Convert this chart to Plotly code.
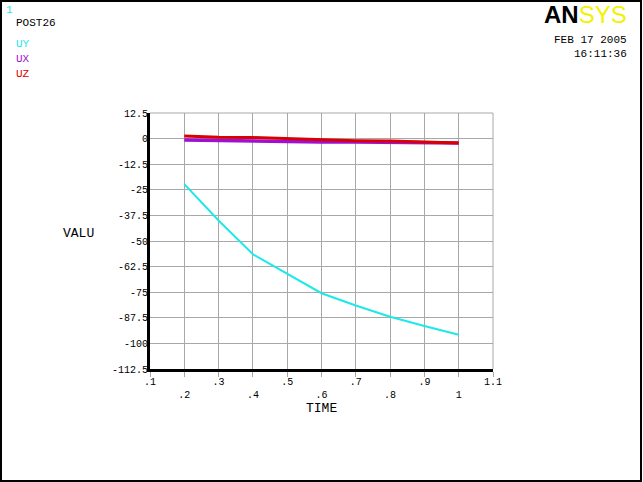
import plotly.graph_objects as go

time = [0.2, 0.3, 0.4, 0.5, 0.6, 0.7, 0.8, 0.9, 1.0]
uy = [-22.2, -40.0, -56.5, -66.0, -75.5, -81.5, -87.0, -91.5, -95.8]
ux = [-0.7, -1.0, -1.4, -1.5, -1.6, -1.7, -1.8, -1.9, -2.1]
uz = [1.3, 0.7, 0.5, 0.0, -0.6, -1.0, -1.2, -1.6, -2.1]

x_ticks = [0.1, 0.2, 0.3, 0.4, 0.5, 0.6, 0.7, 0.8, 0.9, 1.0, 1.1]
x_labels = [".1", ".2", ".3", ".4", ".5", ".6", ".7", ".8", ".9", "1", "1.1"]
y_ticks = [12.5, 0, -12.5, -25, -37.5, -50, -62.5, -75, -87.5, -100, -112.5]
y_labels = ["12.5", "0", "-12.5", "-25", "-37.5", "-50", "-62.5", "-75", "-87.5", "-100", "-112.5"]

series = [("UY", uy, "#1EE8E8"), ("UX", ux, "#A010D0"), ("UZ", uz, "#D80000")]

FONT = "Liberation Mono"

fig = go.Figure()
widths = {"UY": 2, "UX": 3.5, "UZ": 3}
for name, vals, col in [series[1], series[2], series[0]]:
    fig.add_trace(go.Scatter(x=time, y=vals, mode="lines", name=name,
                             line=dict(color=col, width=widths[name]), showlegend=False))

# staggered x tick labels
x_text = [lab if i % 2 == 0 else "<br>" + lab for i, lab in enumerate(x_labels)]

fig.update_layout(
    width=643, height=482,
    margin=dict(l=150, r=150, t=113, b=113),
    paper_bgcolor="white", plot_bgcolor="white",
    font=dict(family=FONT, color="black", size=10),
    xaxis=dict(range=[0.1, 1.1], tickvals=x_ticks, ticktext=x_text,
               showgrid=True, gridcolor="#A8A8A8", gridwidth=1,
               showline=True, linecolor="black", linewidth=3,
               ticks="outside", ticklen=5, tickcolor="#A8A8A8", tickwidth=1,
               ticklabelstandoff=-4,
               zeroline=False, tickfont=dict(family=FONT, size=10)),
    yaxis=dict(range=[-112.5, 12.5], tickvals=y_ticks, ticktext=y_labels,
               showgrid=True, gridcolor="#A8A8A8", gridwidth=1,
               showline=True, linecolor="black", linewidth=3,
               ticks="", ticklabelstandoff=-3,
               zeroline=False, tickfont=dict(family=FONT, size=10)),
)

# grid edges at top and right
fig.add_shape(type="line", xref="x domain", yref="y domain", x0=0, x1=1, y0=1, y1=1,
              line=dict(color="#A8A8A8", width=1))
fig.add_shape(type="line", xref="x domain", yref="y domain", x0=1, x1=1, y0=0, y1=1,
              line=dict(color="#A8A8A8", width=1))
# frame around the whole picture
fig.add_shape(type="rect", xref="paper", yref="paper", x0=-149/343, x1=1+148/343,
              y0=-112/256, y1=1+112/256, line=dict(color="black", width=2))

ann = []
def px(x):
    return (x - 150) / 343
def py(y):
    return (369 - y) / 256

ann.append(dict(text="1", x=px(4), y=py(10), font=dict(color="#1EE8E8", size=11, family=FONT)))
ann.append(dict(text="POST26", x=px(14), y=py(23), font=dict(color="black", size=11, family=FONT)))
for i, (name, vals, col) in enumerate(series):
    ann.append(dict(text=name, x=px(14), y=py(44 + 15 * i), font=dict(color=col, size=11, family=FONT)))
ann.append(dict(text="FEB 17 2005", x=px(629), y=py(40), xanchor="right",
                font=dict(color="black", size=11, family=FONT)))
ann.append(dict(text="16:11:36", x=px(629), y=py(54), xanchor="right",
                font=dict(color="black", size=11, family=FONT)))
ann.append(dict(text="<b>AN</b><span style='color:#F2F200'>SYS</span>", x=px(629), y=py(14),
                xanchor="right", font=dict(color="black", size=24, family="Liberation Sans")))
ann.append(dict(text="VALU", x=px(78), y=py(233), font=dict(color="black", size=13, family=FONT)))
ann.append(dict(text="TIME", x=px(321), y=py(408), font=dict(color="black", size=13, family=FONT)))

for a in ann:
    a.setdefault("xanchor", "left" if a["text"] not in ("VALU", "TIME") else "center")
    a.update(xref="paper", yref="paper", yanchor="middle", showarrow=False)
fig.update_layout(annotations=ann)

fig.write_html("out.html", config={"displayModeBar": False},
               post_script="document.body.style.margin='0';")
